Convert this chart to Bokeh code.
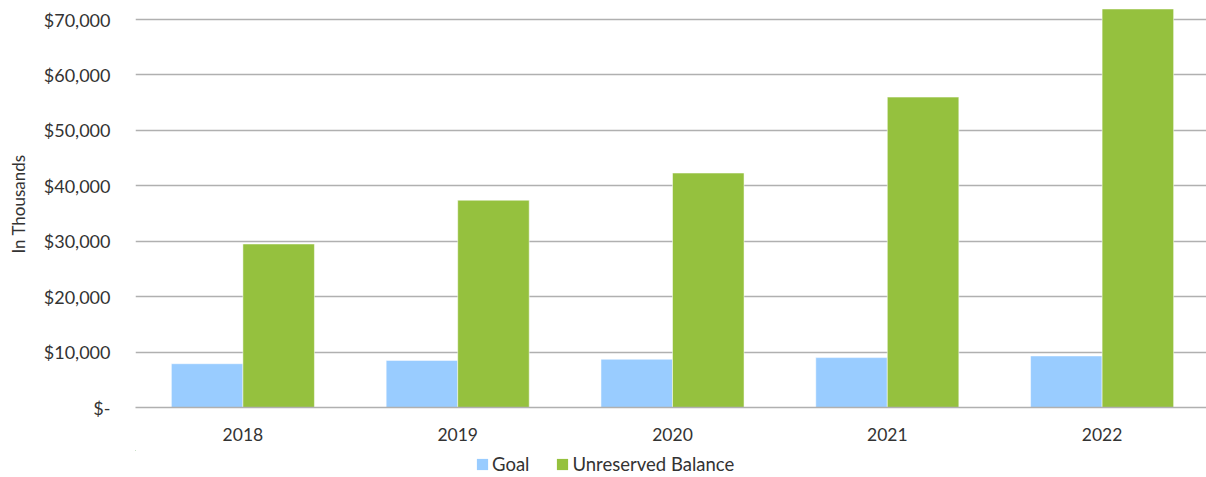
from bokeh.plotting import figure
from bokeh.layouts import column
from bokeh.models import Range1d, FixedTicker, Legend, LegendItem, ColumnDataSource
from bokeh.embed import file_html
from bokeh.resources import INLINE

years = ["2018", "2019", "2020", "2021", "2022"]
goal = [7900, 8500, 8700, 9000, 9300]
unreserved = [29500, 37400, 42300, 56000, 71900]
y_ticks = [0, 10000, 20000, 30000, 40000, 50000, 60000, 70000]
y_tick_labels = ["$-", "$10,000", "$20,000", "$30,000", "$40,000", "$50,000", "$60,000", "$70,000"]
series_names = ["Goal", "Unreserved Balance"]
series_colors = ["#99CCFF", "#95C13E"]

FONT = "Lato"
TEXT = "#333333"
GRID = "#b0b0b0"
W = 1206

bar_w = 0.333
centers = [i + 0.5 for i in range(len(years))]
src = ColumnDataSource(dict(
    goal_x=[c - bar_w / 2 for c in centers],
    bal_x=[c + bar_w / 2 for c in centers],
    goal=goal,
    unreserved=unreserved,
))

p = figure(width=W, height=450, output_backend="svg", toolbar_location=None,
           x_range=Range1d(0, 4.986), y_range=Range1d(0, 73430),
           min_border_left=135, min_border_right=0, min_border_top=0, min_border_bottom=43)
p.outline_line_color = None

p.vbar(x="goal_x", top="goal", width=bar_w, source=src,
       fill_color=series_colors[0], line_color="white", line_alpha=0.5, line_width=1)
p.vbar(x="bal_x", top="unreserved", width=bar_w, source=src,
       fill_color=series_colors[1], line_color="white", line_alpha=0.5, line_width=1)

# y axis
p.yaxis.ticker = FixedTicker(ticks=y_ticks)
p.yaxis.major_label_overrides = {t: l for t, l in zip(y_ticks, y_tick_labels)}
p.yaxis.axis_line_color = None
p.yaxis.major_tick_line_color = None
p.yaxis.minor_tick_line_color = None
p.yaxis.major_tick_out = 0
p.yaxis.major_label_standoff = 25
p.yaxis.major_label_text_font = FONT
p.yaxis.major_label_text_font_size = "18px"
p.yaxis.major_label_text_color = TEXT
p.yaxis.axis_label = "In Thousands"
p.yaxis.axis_label_text_font = FONT
p.yaxis.axis_label_text_font_size = "17px"
p.yaxis.axis_label_text_font_style = "normal"
p.yaxis.axis_label_text_color = TEXT
p.yaxis.axis_label_standoff = 12

# x axis
p.xaxis.ticker = FixedTicker(ticks=centers)
p.xaxis.major_label_overrides = {c: y for c, y in zip(centers, years)}
p.xaxis.axis_line_color = GRID
p.xaxis.axis_line_width = 1.5
p.xaxis.major_tick_line_color = None
p.xaxis.minor_tick_line_color = None
p.xaxis.major_tick_out = 0
p.xaxis.major_label_standoff = 20
p.xaxis.major_label_text_font = FONT
p.xaxis.major_label_text_font_size = "17.5px"
p.xaxis.major_label_text_color = TEXT

p.xgrid.grid_line_color = None
p.ygrid.grid_line_color = GRID
p.ygrid.grid_line_width = 1.5

# legend strip (its zero-width bars sit outside the visible range; only the legend shows)
p2 = figure(width=W, height=27, output_backend="svg", toolbar_location=None,
            x_axis_type=None, y_axis_type=None,
            x_range=Range1d(100, 101), y_range=Range1d(-3, -2),
            min_border_left=0, min_border_right=0, min_border_top=0, min_border_bottom=0)
p2.outline_line_color = None
r1 = p2.vbar(x="goal_x", top="goal", width=0, source=src,
             fill_color=series_colors[0], line_color=None)
r2 = p2.vbar(x="bal_x", top="unreserved", width=0, source=src,
             fill_color=series_colors[1], line_color=None)

legend = Legend(items=[LegendItem(label=series_names[0], renderers=[r1], index=0),
                       LegendItem(label=series_names[1], renderers=[r2], index=0)],
                orientation="horizontal", location=(340, 2),
                glyph_width=14, glyph_height=14, label_height=14,
                label_standoff=3, spacing=26, padding=0, margin=0,
                border_line_color=None, background_fill_alpha=0,
                label_text_font=FONT, label_text_font_size="18.5px",
                label_text_color=TEXT)
p2.add_layout(legend, "center")

layout = column(p, p2, spacing=0)
open("out.html", "w").write(file_html(layout, INLINE))
